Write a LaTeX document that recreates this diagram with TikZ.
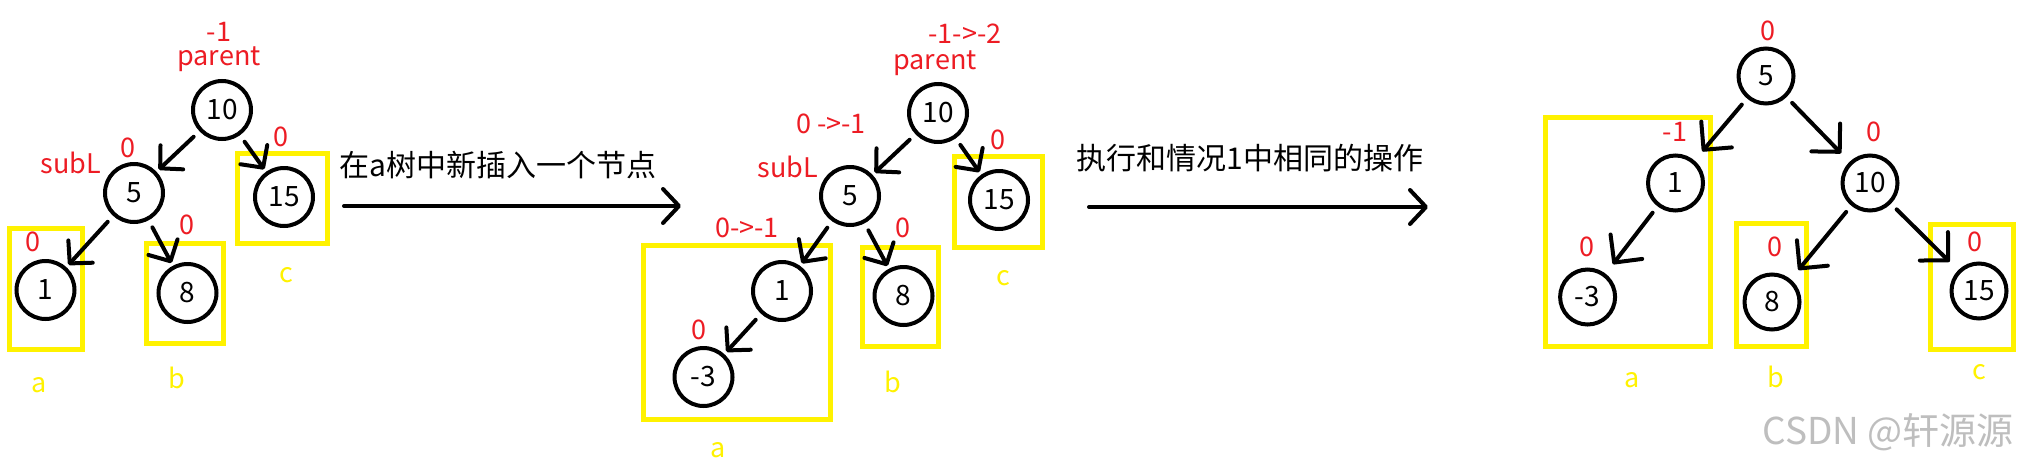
\documentclass[tikz,border=0pt]{standalone}
\usepackage{fontspec}
\setmainfont{Noto Sans CJK SC}
\usetikzlibrary{arrows.meta}
\definecolor{pred}{RGB}{237,28,36}
\definecolor{pyel}{RGB}{255,242,0}
\definecolor{wmark}{RGB}{190,190,190}
\begin{document}
\begin{tikzpicture}[x=1pt,y=-1pt,
  tn/.style={circle,draw,line width=4pt,minimum size=58pt,inner sep=0pt,font=\fontsize{28}{28}\selectfont},
  tns/.style={tn,minimum size=55pt},
  bal/.style={text=pred,inner sep=0pt,font=\fontsize{27}{27}\selectfont},
  ylab/.style={text=pyel,inner sep=0pt,font=\fontsize{27}{27}\selectfont},
  ybox/.style={draw=pyel,line width=5pt},
  edge/.style={line width=4pt,line cap=round,shorten <=8pt,shorten >=3pt,
    -{Straight Barb[length=16pt,width=33pt,round]}},
  bedge/.style={edge,shorten >=12pt,-{Straight Barb[length=20pt,width=40pt,round]}},
  bigarrow/.style={line width=4pt,line cap=round,-{Straight Barb[length=16pt,width=34pt,round]}},
  captext/.style={inner sep=0pt,font=\fontsize{30}{30}\selectfont}
]
\useasboundingbox (0,0) rectangle (2026,466);
\fill[white] (0,0) rectangle (2026,466);

% ---------- left tree ----------
\node[bal] (lb10) at (219,32) {-1};
\node[bal] (lpar) at (219,59) {parent};
\node[tn] (l10) at (222,110) {10};
\node[tn] (l5) at (134,193) {5};
\node[tn] (l15) at (284,197) {15};
\node[tn] (l1) at (45.5,290) {1};
\node[tn] (l8) at (187.5,293) {8};
\node[bal] (lsub) at (71,163) {subL};
\node[bal] (lb5) at (128,148) {0};
\node[bal] (lb15) at (281,137) {0};
\node[bal] (lb1) at (33,242) {0};
\node[bal] (lb8) at (187,225) {0};
\draw[ybox] (9,228) rectangle (82,349);
\draw[ybox] (146,243) rectangle (223,343);
\draw[ybox] (237,153) rectangle (327,243);
\node[ylab] (la) at (39,385) {a};
\node[ylab] (lb) at (177,378) {b};
\node[ylab] (lc) at (286,275) {c};
\draw[edge] (l10) -- (l5);
\draw[edge] (l10) -- (l15);
\draw[edge] (l5) -- (l1);
\draw[edge] (l5) -- (l8);

% ---------- first big arrow ----------
\node[captext] (t1) at (498,165) {在a树中新插入一个节点};
\coordinate (a1s) at (344,206);
\coordinate (a1e) at (681,206);
\draw[bigarrow] (a1s) -- (a1e);

% ---------- middle tree ----------
\node[bal] (mb10) at (965,34) {-1->-2};
\node[bal] (mpar) at (935,63) {parent};
\node[tn] (m10) at (938,113) {10};
\node[bal] (mb5) at (831,124) {0 ->-1};
\node[bal] (msub) at (788,167) {subL};
\node[tn] (m5) at (850,196) {5};
\node[bal] (mb15) at (998,140) {0};
\node[tn] (m15) at (999,200) {15};
\draw[ybox] (954,156) rectangle (1042,247);
\node[ylab] (mc) at (1003,278) {c};
\node[bal] (mb1) at (747,228) {0->-1};
\node[bal] (mb8) at (902.5,228) {0};
\node[tn] (m1) at (782,291) {1};
\node[tn] (m8) at (903.5,296) {8};
\draw[ybox] (862,247) rectangle (938,346);
\node[ylab] (mb) at (893,382) {b};
\draw[ybox] (643,245) rectangle (830,419);
\node[ylab] (ma) at (718,450) {a};
\node[bal] (mbm3) at (698.5,330) {0};
\node[tn] (mm3) at (703.5,377) {-3};
\draw[edge] (m10) -- (m5);
\draw[edge] (m10) -- (m15);
\draw[edge] (m5) -- (m1);
\draw[edge] (m5) -- (m8);
\draw[edge] (m1) -- (mm3);

% ---------- second big arrow ----------
\node[captext] (t2) at (1250,158) {执行和情况1中相同的操作};
\coordinate (a2s) at (1089,207);
\coordinate (a2e) at (1428,207);
\draw[bigarrow] (a2s) -- (a2e);

% ---------- right tree ----------
\node[bal] (rb5) at (1768,31) {0};
\node[tns] (r5) at (1766,76) {5};
\node[tns] (r1) at (1675.5,183) {1};
\node[bal] (rb1) at (1675,132) {-1};
\node[tns] (r10) at (1870,183) {10};
\node[bal] (rb10) at (1874,132) {0};
\draw[ybox] (1545,117) rectangle (1710,346);
\node[bal] (rbm3) at (1587,247) {0};
\node[tns] (rm3) at (1587.6,297) {-3};
\draw[ybox] (1736,223) rectangle (1806,346);
\node[bal] (rb8) at (1775,247) {0};
\node[tns] (r8) at (1772,302) {8};
\draw[ybox] (1930,224) rectangle (2013,349);
\node[bal] (rb15) at (1975,242) {0};
\node[tns] (r15) at (1979,291) {15};
\node[ylab] (ra) at (1632,380) {a};
\node[ylab] (rb) at (1776,377) {b};
\node[ylab] (rc) at (1979,372) {c};
\draw[bedge] (r5) -- (r1);
\draw[bedge] (r5) -- (r10);
\draw[bedge] (r1) -- (rm3);
\draw[bedge] (r10) -- (r8);
\draw[bedge] (r10) -- (r15);

% ---------- watermark ----------
\node[text=wmark,inner sep=0pt,font=\fontsize{37}{37}\selectfont] (wm) at (1888,432) {CSDN @轩源源};
\end{tikzpicture}
\end{document}
